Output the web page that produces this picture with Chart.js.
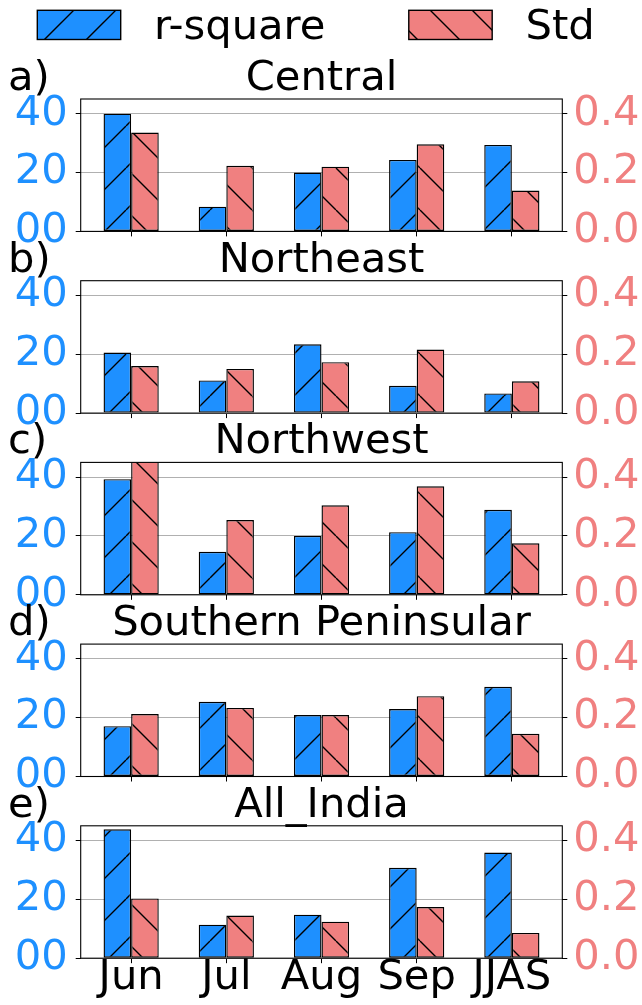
<!DOCTYPE html>
<html><head><meta charset="utf-8">
<script src="https://cdn.jsdelivr.net/npm/chart.js@4/dist/chart.umd.min.js"></script>
<style>
html,body{margin:0;padding:0;background:#fff;}
body{width:642px;height:1005px;position:relative;overflow:hidden;}
canvas{position:absolute;left:0;}
</style></head><body>
<script>
// ---- data ----
const categories = ['Jun', 'Jul', 'Aug', 'Sep', 'JJAS'];
const regionTitles = ['Central', 'Northeast', 'Northwest', 'Southern Peninsular', 'All_India'];
const panelLetters = ['a)', 'b)', 'c)', 'd)', 'e)'];
const seriesNames = ['r-square', 'Std'];

const rsqCentral   = [40.0, 8.4, 20.0, 24.3, 29.4];
const rsqNortheast = [20.6, 11.1, 23.4, 9.3, 6.7];
const rsqNorthwest = [39.3, 14.6, 20.0, 21.3, 28.9];
const rsqSouthern  = [17.1, 25.4, 20.9, 22.9, 30.5];
const rsqAllIndia  = [43.8, 11.4, 14.8, 30.7, 35.9];

const stdCentral   = [0.336, 0.223, 0.220, 0.296, 0.139];
const stdNortheast = [0.160, 0.150, 0.173, 0.216, 0.108];
const stdNorthwest = [0.46, 0.254, 0.304, 0.369, 0.175];
const stdSouthern  = [0.212, 0.233, 0.209, 0.273, 0.145];
const stdAllIndia  = [0.203, 0.145, 0.124, 0.174, 0.086];

const rsqPanels = [rsqCentral, rsqNortheast, rsqNorthwest, rsqSouthern, rsqAllIndia];
const stdPanels = [stdCentral, stdNortheast, stdNorthwest, stdSouthern, stdAllIndia];

const leftTickValues = [0, 20, 40];
const leftTickLabels = ['00', '20', '40'];
const rightTickValues = [0, 0.2, 0.4];
const rightTickLabels = ['0.0', '0.2', '0.4'];

// ---- styling / layout ----
const BLUE = '#1E90FF', RED = '#F08080';
const FS = 41.67, FAMILY = '"DejaVu Sans", sans-serif';
const FONT = FS + 'px ' + FAMILY;
const W = 642, FIG_H = 1005;
const LEFT_W = 80.7, RIGHT_W = W - 562.3;
const TOP0 = 99, PITCH = 181.7, AREA_H = 132.4;

Chart.defaults.font.family = FAMILY;
Chart.defaults.font.size = FS;

function hatch(ctx, color, dir) {
  const S = 42;
  const c = document.createElement('canvas');
  c.width = S; c.height = S;
  const g = c.getContext('2d');
  g.fillStyle = color; g.fillRect(0, 0, S, S);
  g.strokeStyle = '#000'; g.lineWidth = 1.4;
  g.beginPath();
  for (const o of [-S, 0, S]) {
    if (dir === '/') { g.moveTo(o, S); g.lineTo(o + S, 0); }
    else { g.moveTo(o, 0); g.lineTo(o + S, S); }
  }
  g.stroke();
  return ctx.createPattern(c, 'repeat');
}

const decor = {
  id: 'decor',
  afterDraw(chart, args, opts) {
    const ctx = chart.ctx, a = chart.chartArea;
    ctx.save();
    ctx.strokeStyle = '#000'; ctx.lineWidth = 1.1;
    ctx.strokeRect(a.left, a.top, a.right - a.left, a.bottom - a.top);
    ctx.fillStyle = '#000'; ctx.font = FONT; ctx.textBaseline = 'alphabetic';
    ctx.textAlign = 'center';
    ctx.fillText(opts.title, (a.left + a.right) / 2, a.top - 9);
    ctx.textAlign = 'left';
    ctx.fillText(opts.letter, 8, a.top - 9);
    if (opts.legend) {
      let x = 37.3;
      const y = 10.3, pw = 83.4, ph = 29.2;
      chart.data.datasets.forEach(ds => {
        ctx.fillStyle = ds.backgroundColor;
        ctx.fillRect(x, y, pw, ph);
        ctx.lineWidth = 1.4; ctx.strokeStyle = '#000';
        ctx.strokeRect(x, y, pw, ph);
        const tx = x + pw + 0.8 * FS;
        ctx.fillStyle = '#000';
        ctx.fillText(ds.label, tx, 39);
        x = tx + ctx.measureText(ds.label).width + 2.0 * FS;
      });
    }
    ctx.restore();
  }
};

for (let i = 0; i < 5; i++) {
  const chartTop = TOP0 + PITCH * i;
  const canvasTop = i === 0 ? 0 : Math.floor(chartTop - 52);
  const padTop = chartTop - canvasTop;
  const baseline = chartTop + AREA_H;
  const canvasBottom = i === 4 ? FIG_H : Math.ceil(baseline + 30);
  const H = canvasBottom - canvasTop;
  const B = canvasBottom - baseline;
  const last = i === 4;

  const cv = document.createElement('canvas');
  cv.width = W; cv.height = H;
  cv.style.top = canvasTop + 'px';
  cv.style.width = W + 'px'; cv.style.height = H + 'px';
  document.body.appendChild(cv);
  const ctx = cv.getContext('2d');

  new Chart(cv, {
    type: 'bar',
    data: {
      datasets: [
        { label: seriesNames[0], yAxisID: 'y',
          data: rsqPanels[i].map((v, k) => ({ x: k, y: v })),
          backgroundColor: hatch(ctx, BLUE, '/'), borderColor: '#000', borderWidth: 1.4,
          borderSkipped: false, clip: 0 },
        { label: seriesNames[1], yAxisID: 'y1',
          data: stdPanels[i].map((v, k) => ({ x: k, y: v })),
          backgroundColor: hatch(ctx, RED, '\\'), borderColor: '#000', borderWidth: 1.4,
          borderSkipped: false, clip: 0 }
      ]
    },
    options: {
      responsive: false, maintainAspectRatio: false, animation: false, devicePixelRatio: 1,
      categoryPercentage: 0.58, barPercentage: 1.0,
      layout: { padding: { top: padTop, left: 0, right: 0, bottom: 0 } },
      plugins: {
        legend: { display: false }, tooltip: { enabled: false }, title: { display: false },
        decor: { title: regionTitles[i], letter: panelLetters[i], legend: i === 0 }
      },
      scales: {
        x: {
          type: 'linear', min: -0.53, max: 4.53, offset: false,
          afterBuildTicks: s => { s.ticks = categories.map((c, k) => ({ value: k })); },
          afterFit: s => { s.height = B; s.paddingLeft = 0; s.paddingRight = 0; },
          ticks: { display: last, color: '#000', padding: -10, maxRotation: 0, autoSkip: false,
                   font: { size: FS }, callback: v => categories[Math.round(v)] },
          grid: { offset: false, drawOnChartArea: false, drawTicks: true, tickLength: 5, tickColor: '#000', tickWidth: 1 },
          border: { display: false }
        },
        y: {
          position: 'left', min: 0, max: 45,
          afterBuildTicks: s => { s.ticks = leftTickValues.map(v => ({ value: v })); },
          afterFit: s => { s.width = LEFT_W; s.paddingTop = 0; s.paddingBottom = 0; },
          ticks: { color: BLUE, padding: 8, font: { size: FS },
                   callback: v => leftTickLabels[leftTickValues.indexOf(v)] },
          grid: { color: '#b0b0b0', lineWidth: 1, drawTicks: true, tickLength: 5, tickColor: '#000', tickWidth: 1 },
          border: { display: false }
        },
        y1: {
          position: 'right', min: 0, max: 0.45,
          afterBuildTicks: s => { s.ticks = rightTickValues.map(v => ({ value: v })); },
          afterFit: s => { s.width = RIGHT_W; s.paddingTop = 0; s.paddingBottom = 0; },
          ticks: { color: RED, padding: 6, font: { size: FS },
                   callback: v => rightTickLabels[rightTickValues.indexOf(v)] },
          grid: { drawOnChartArea: false, drawTicks: true, tickLength: 5, tickColor: '#000', tickWidth: 1 },
          border: { display: false }
        }
      }
    },
    plugins: [decor]
  });
}
</script>
</body></html>
